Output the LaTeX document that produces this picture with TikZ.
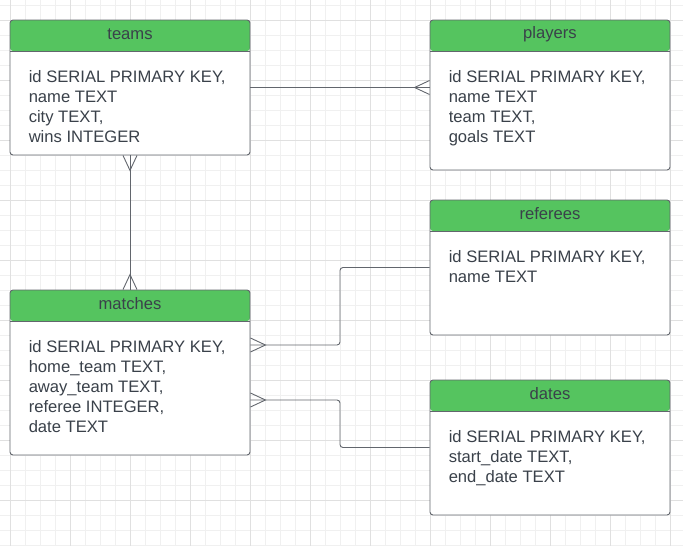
\documentclass[tikz,border=0pt]{standalone}
\usepackage{fontspec}
\setmainfont{Liberation Sans}
\usetikzlibrary{calc,positioning}

\definecolor{headgreen}{HTML}{55C45F}
\definecolor{inkgrey}{HTML}{3A414A}
\definecolor{edgegrey}{HTML}{62666D}
\definecolor{gridminor}{HTML}{F0F0F0}
\definecolor{gridmajor}{HTML}{E0E0E0}

\tikzset{
  table/.style={draw=edgegrey, line width=0.9pt, fill=white, rounded corners=3pt,
    minimum width=240pt, inner sep=0pt,
    path picture={
      \fill[headgreen] (path picture bounding box.north west)
        rectangle ([yshift=-31pt]path picture bounding box.north east);
      \draw[edgegrey, line width=0.9pt] ([yshift=-31pt]path picture bounding box.north west)
        -- ([yshift=-31pt]path picture bounding box.north east);}},
  title/.style={font=\fontsize{16.6}{20}\selectfont, text=inkgrey, minimum height=28pt, inner sep=0pt},
  fields/.style={font=\fontsize{16.6}{20}\selectfont, text=inkgrey, align=left, inner sep=0pt},
  link/.style={draw=edgegrey, line width=0.9pt},
  crowfoot/.pic={\draw[link] (0,-7) -- (15,0) -- (0,7);}
}

\begin{document}
\begin{tikzpicture}[x=1pt, y=-1pt]
\useasboundingbox (0,0) rectangle (683,546);
% grid
\foreach \gx in {10,25,...,680} \draw[gridminor, line width=0.8pt] (\gx,0) -- (\gx,546);
\foreach \gy in {5,20,...,545} \draw[gridminor, line width=0.8pt] (0,\gy) -- (683,\gy);
\foreach \gx in {10,70,...,670} \draw[gridmajor, line width=0.8pt] (\gx,0) -- (\gx,546);
\foreach \gy in {20,80,...,500} \draw[gridmajor, line width=0.8pt] (0,\gy) -- (683,\gy);

% tables
\node[table, minimum height=135pt] (teams) at (130,87.5) {};
\node[table, minimum height=150pt] (players) at (550,95) {};
\node[table, minimum height=135pt] (referees) at (550,267.5) {};
\node[table, minimum height=165pt] (matches) at (130,372.5) {};
\node[table, minimum height=135pt] (dates) at (550,447.5) {};

\node[title, below=0pt of teams.north] (teamstitle) {teams};
\node[title, below=0pt of players.north] (playerstitle) {players};
\node[title, below=0pt of referees.north] (refereestitle) {referees};
\node[title, below=0pt of matches.north] (matchestitle) {matches};
\node[title, below=0pt of dates.north] (datestitle) {dates};

\node[fields, below right=51pt and 19pt of teams.north west] (teamsfields)
  {id SERIAL PRIMARY KEY,\\name TEXT\\city TEXT,\\wins INTEGER};
\node[fields, below right=51pt and 19pt of players.north west] (playersfields)
  {id SERIAL PRIMARY KEY,\\name TEXT\\team TEXT,\\goals TEXT};
\node[fields, below right=51pt and 19pt of referees.north west] (refereesfields)
  {id SERIAL PRIMARY KEY,\\name TEXT};
\node[fields, below right=51pt and 19pt of matches.north west] (matchesfields)
  {id SERIAL PRIMARY KEY,\\home\_team TEXT,\\away\_team TEXT,\\referee INTEGER,\\date TEXT};
\node[fields, below right=51pt and 19pt of dates.north west] (datesfields)
  {id SERIAL PRIMARY KEY,\\start\_date TEXT,\\end\_date TEXT};

% relations
\draw[link] (teams.east) -- (teams.east -| players.west);
\pic[rotate=180] at (teams.east -| players.west) {crowfoot};

\draw[link] (teams.south) -- (matches.north);
\pic[rotate=-90] at (teams.south) {crowfoot};
\pic[rotate=90] at (matches.north) {crowfoot};

\coordinate (mid) at ($(matches.east)!0.5!(referees.west)$);
\draw[link, rounded corners=3pt] ([yshift=27.5pt]matches.east) -| (mid |- referees.west) -- (referees.west);
\draw[link, rounded corners=3pt] ([yshift=-27.5pt]matches.east) -| (mid |- dates.west) -- (dates.west);
\pic at ([yshift=27.5pt]matches.east) {crowfoot};
\pic at ([yshift=-27.5pt]matches.east) {crowfoot};
\end{tikzpicture}
\end{document}
